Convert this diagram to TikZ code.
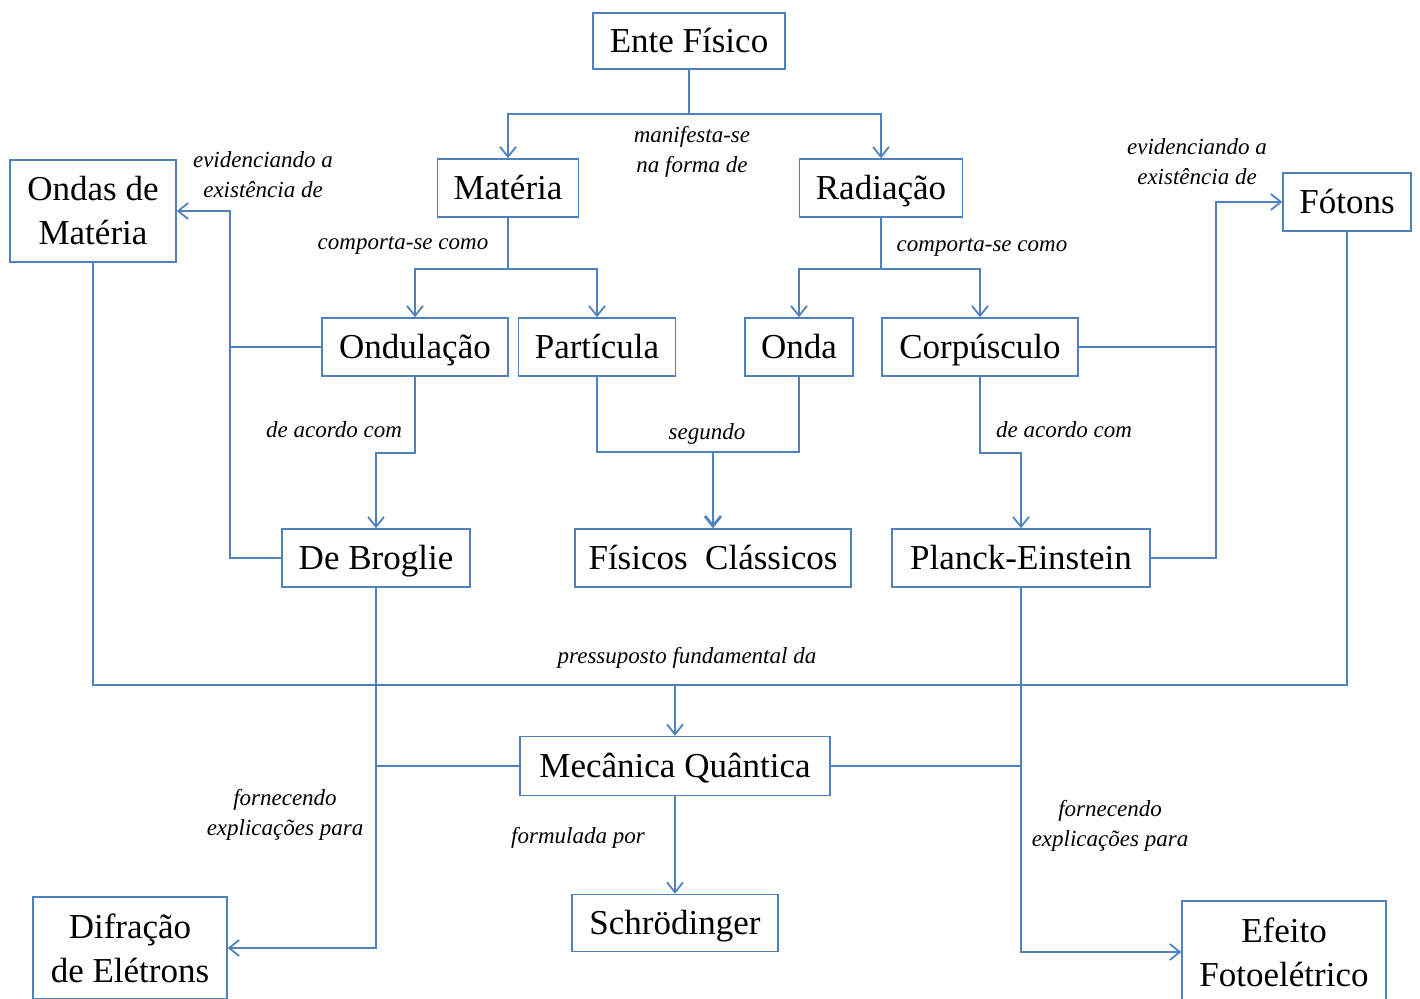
\documentclass[tikz,border=0pt]{standalone}
\usepackage{fontspec}
\setmainfont{Liberation Serif}
\usepackage{tikz}
\usetikzlibrary{arrows.meta}
\definecolor{azul}{RGB}{79,129,189}

\begin{document}
\begin{tikzpicture}[x=0.5pt,y=-0.5pt,
  caixa/.style={draw=azul,line width=0.7pt,inner sep=0pt,align=center,
    font=\fontsize{17.5}{22}\selectfont},
  linhaum/.style={caixa,text height=11.9pt,text depth=0pt},
  rotulo/.style={align=center,inner sep=0pt,font=\itshape\fontsize{11.5}{15}\selectfont},
  linha/.style={draw=azul,line width=0.9pt},
  seta/.style={linha,-{Straight Barb[length=5pt,width=8pt]}}]
  \useasboundingbox (0,0) rectangle (1420,999);
  \node[linhaum,minimum width=96pt,minimum height=28pt] (ente) at (689,41) {Ente Físico};
  \node[linhaum,minimum width=70.5pt,minimum height=29pt] (materia) at (508,188) {Matéria};
  \node[linhaum,minimum width=81.5pt,minimum height=29pt] (radiacao) at (881,188) {Radiação};
  \node[caixa,minimum width=83pt,minimum height=51pt] (ondas) at (93,211) {Ondas de\\Matéria};
  \node[linhaum,minimum width=64pt,minimum height=29pt] (fotons) at (1347,202) {Fótons};
  \node[linhaum,minimum width=93pt,minimum height=29pt] (ondulacao) at (415,347) {Ondulação};
  \node[linhaum,minimum width=78.5pt,minimum height=29pt] (particula) at (597,347) {Partícula};
  \node[linhaum,minimum width=54pt,minimum height=29pt] (onda) at (799,347) {Onda};
  \node[linhaum,minimum width=98pt,minimum height=29pt] (corpusculo) at (980,347) {Corpúsculo};
  \node[linhaum,minimum width=94pt,minimum height=29pt] (debroglie) at (376,558) {De Broglie};
  \node[linhaum,minimum width=138pt,minimum height=29pt] (fisicos) at (713,558) {Físicos\ \ Clássicos};
  \node[linhaum,minimum width=129pt,minimum height=29pt] (planck) at (1021,558) {Planck-Einstein};
  \node[linhaum,minimum width=155pt,minimum height=29.5pt] (mecanica) at (675,766) {Mecânica Quântica};
  \node[linhaum,minimum width=103pt,minimum height=28.5pt] (schrodinger) at (675,923) {Schrödinger};
  \node[caixa,minimum width=97pt,minimum height=51pt] (difracao) at (130,948) {Difração\\de Elétrons};
  \node[caixa,minimum width=102pt,minimum height=51pt] (efeito) at (1284,952) {Efeito\\Fotoelétrico};

  \node[rotulo] (l1) at (692,152) {manifesta-se\\na forma de};
  \node[rotulo] (l2) at (403,245) {comporta-se como};
  \node[rotulo] (l3) at (982,247) {comporta-se como};
  \node[rotulo] (l4) at (263,175) {evidenciando a\\existência de};
  \node[rotulo] (l5) at (1197,162) {evidenciando a\\existência de};
  \node[rotulo] (l6) at (334,430) {de acordo com};
  \node[rotulo] (l7) at (707,434) {segundo};
  \node[rotulo] (l8) at (1064,430) {de acordo com};
  \node[rotulo] (l9) at (687,658) {pressuposto fundamental da};
  \node[rotulo] (l10) at (285,815) {fornecendo\\explicações para};
  \node[rotulo] (l11) at (1110,826) {fornecendo\\explicações para};
  \node[rotulo] (l12) at (578,838) {formulada por};

  \coordinate (e1) at (230,347);
  \coordinate (e2) at (1216,347);
  \coordinate (s1) at (713,452);
  \coordinate (p1) at (675,685);

  \draw[linha] (ente.south) -- ++(0,44) coordinate (m1);
  \draw[seta] (m1) -| (materia.north);
  \draw[seta] (m1) -| (radiacao.north);
  \draw[linha] (materia.south) -- ++(0,51) coordinate (m2);
  \draw[seta] (m2) -| (ondulacao.north);
  \draw[seta] (m2) -| (particula.north);
  \draw[linha] (radiacao.south) -- ++(0,51) coordinate (m3);
  \draw[seta] (m3) -| (onda.north);
  \draw[seta] (m3) -| (corpusculo.north);

  \draw[linha] (ondulacao.west) -- (e1);
  \draw[linha] (debroglie.west) -| (e1);
  \draw[seta] (e1) |- (ondas.east);
  \draw[seta] (ondulacao.south) -- ++(0,76) -| (debroglie.north);

  \draw[linha] (particula.south) |- (s1) -| (onda.south);
  \draw[seta,line width=1.4pt] (s1) -- (fisicos.north);

  \draw[seta] (corpusculo.south) -- ++(0,76) -| (planck.north);
  \draw[linha] (corpusculo.east) -- (e2);
  \draw[linha] (planck.east) -| (e2);
  \draw[seta] (e2) |- (fotons.west);

  \draw[linha] (ondas.south) |- (p1) -| (fotons.south);
  \draw[seta] (p1) -- (mecanica.north);

  \draw[seta] (debroglie.south) |- (difracao.east);
  \draw[linha] (mecanica.west) -- (debroglie.south |- mecanica.west);
  \draw[seta] (planck.south) |- (efeito.west);
  \draw[linha] (mecanica.east) -- (planck.south |- mecanica.east);
  \draw[seta] (mecanica.south) -- (schrodinger.north);
\end{tikzpicture}
\end{document}
